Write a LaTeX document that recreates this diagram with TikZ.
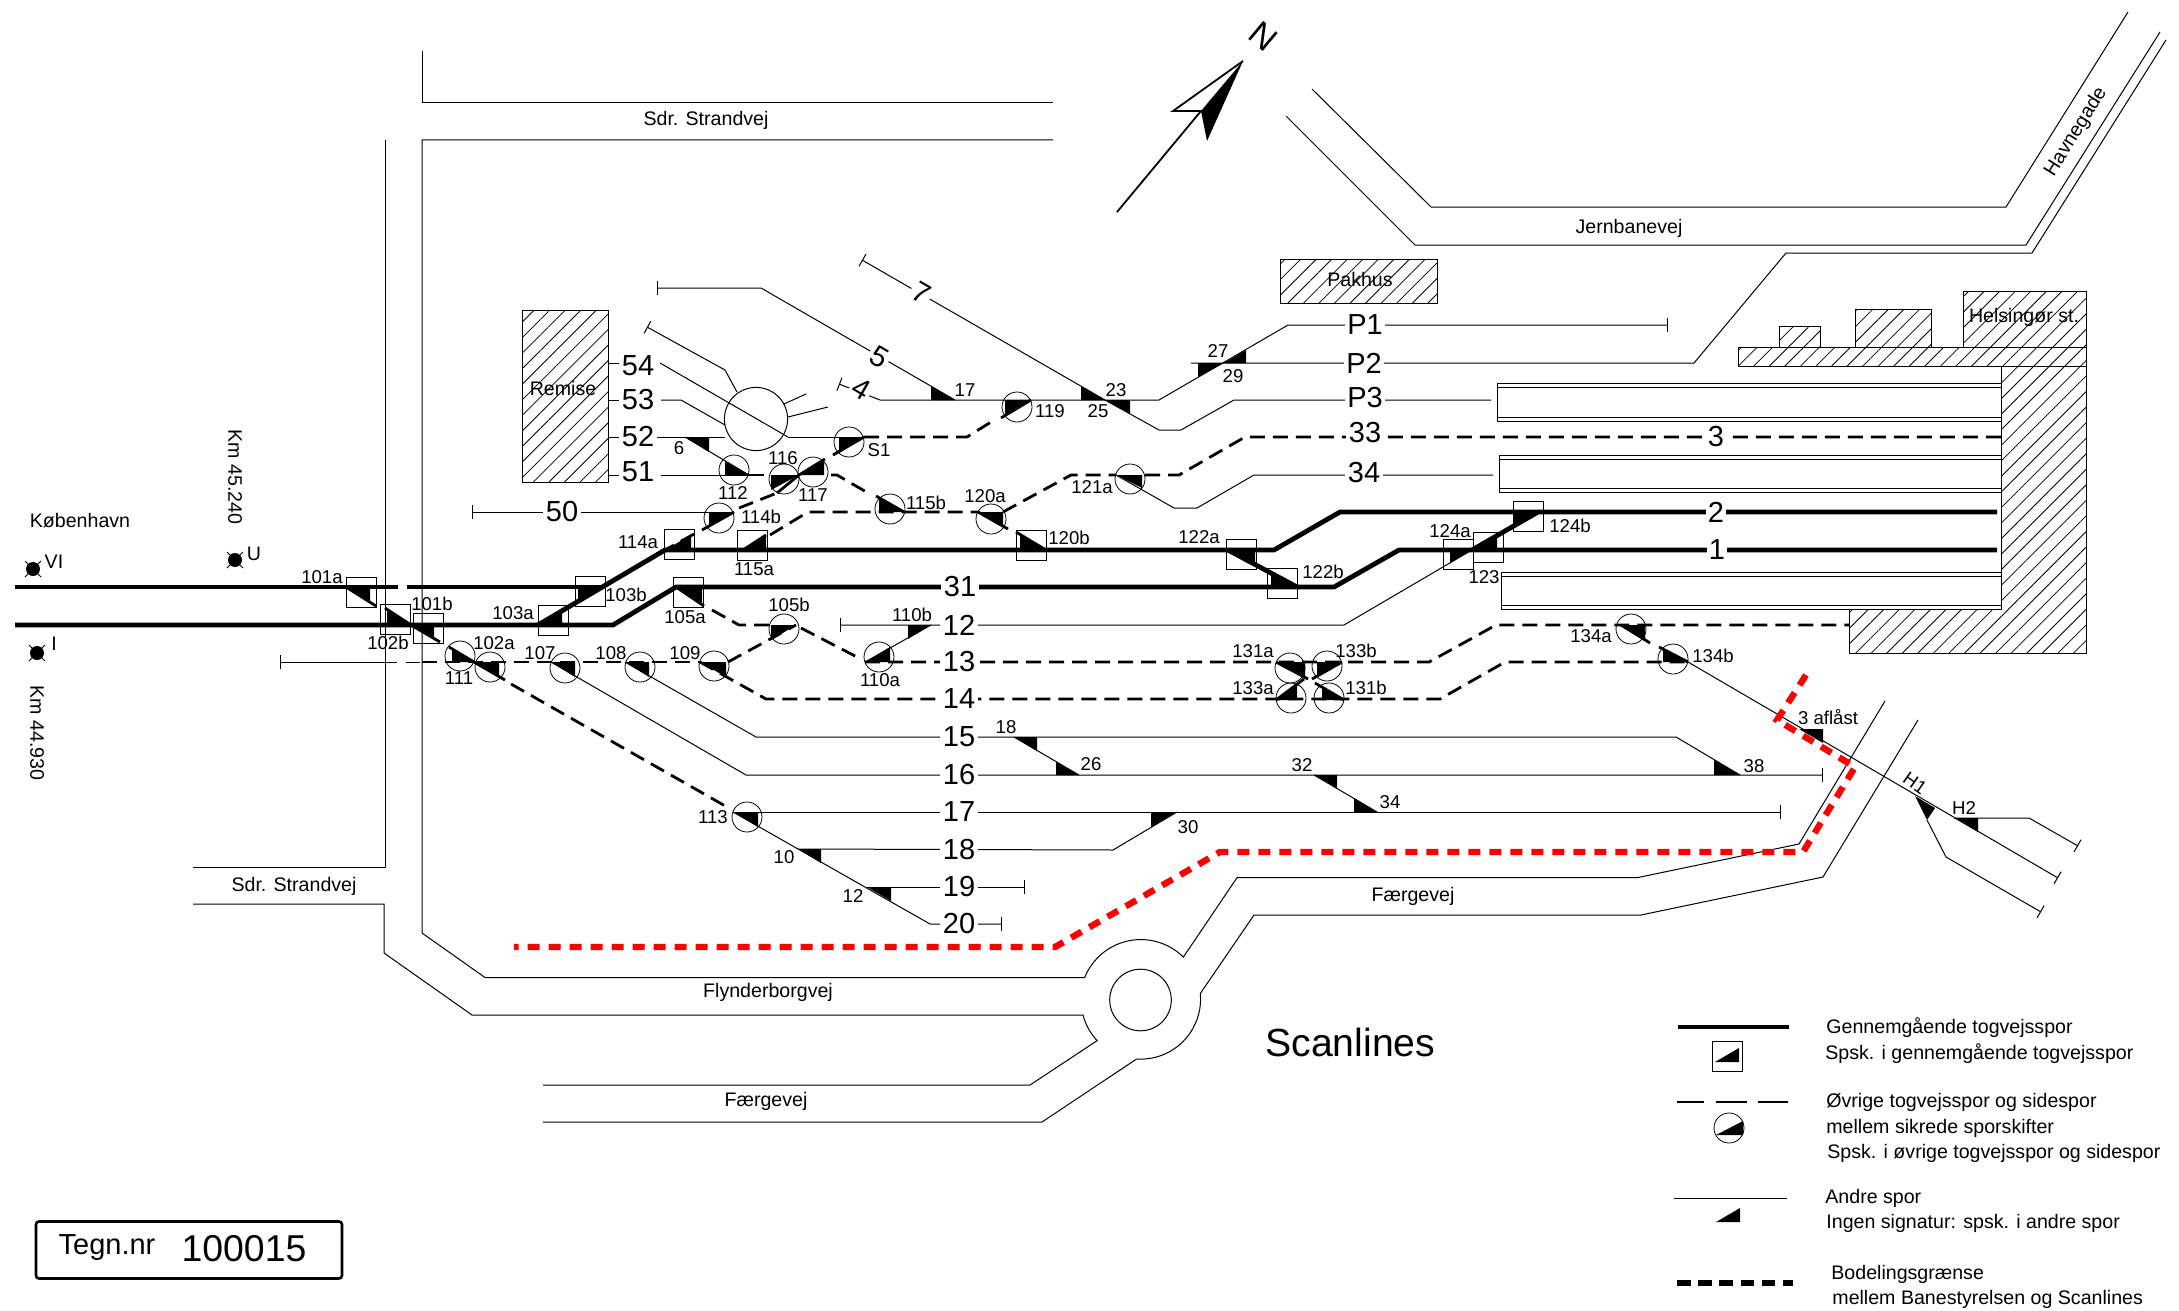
\documentclass[tikz,border=0pt]{standalone}
\usepackage{fontspec}
\setmainfont{Liberation Sans}
\usetikzlibrary{arrows.meta,patterns.meta}
\tikzstyle{gennem} = [line width=2.4pt]
\tikzstyle{ovrige} = [line width=1.4pt, dash pattern=on 7.5pt off 4pt]
\tikzstyle{stub} = [line width=1.4pt]
\tikzstyle{andre} = [line width=.5pt]
\tikzstyle{graense} = [line width=3.2pt, red, dash pattern=on 6pt off 4.5pt]
\tikzstyle{boks} = [draw, line width=.4pt, rectangle, minimum size=15pt, inner sep=0pt]
\tikzstyle{kreds} = [draw, line width=.4pt, circle, minimum size=15pt, inner sep=0pt]
\tikzstyle{spor} = [fill=white, inner sep=1.2pt, font=\fontsize{14.5}{16}\selectfont]
\tikzstyle{nr} = [inner sep=0pt, font=\fontsize{9.3}{11}\selectfont]
\tikzstyle{vej} = [inner sep=0pt, font=\fontsize{9.8}{11}\selectfont]
\tikzstyle{tekst} = [inner sep=0pt, anchor=west, font=\fontsize{9.8}{11}\selectfont]
\tikzstyle{hus} = [draw, line width=.5pt, pattern={Lines[angle=45,distance=5.5pt,line width=.4pt]}]
\tikzset{endbar/.style={-{Bar[width=7pt,length=.5pt]}},
    startbar/.style={{Bar[width=7pt,length=.5pt]}-},
    bothbar/.style={{Bar[width=7pt,length=.5pt]}-{Bar[width=7pt,length=.5pt]}}}

\begin{document}
\begin{tikzpicture}[x=.5pt, y=-.5pt]
    \useasboundingbox (0,0) rectangle (2179,1311);

    % veje
    \draw [andre] (422,51) -- (422,103) -- (1053,103);
    \draw [andre] (385,140) -- (385,867) -- (193,867);
    \draw [andre] (1053,140) -- (422,140) -- (422,933) -- (485,977.5) -- (1084.6,977.7)
        arc [start angle=201.7, end angle=314.7, radius=60.5] -- (1237,877.7) -- (1637,877.7) -- (1799,844) -- (1885,701);
    \draw [andre] (193,904) -- (384,904) -- (384,953) -- (472,1015) -- (1083,1015)
        arc [start angle=165.4, end angle=136.9, radius=59.5] -- (1030,1085) -- (543,1085);
    \draw [andre] (543,1122) -- (1042,1122) -- (1136.6,1059)
        arc [start angle=93.8, end angle=-5.4, radius=60] -- (1254,915) -- (1641,915) -- (1823,877) -- (1918,720);
    \node [draw, andre, circle, minimum size=30.8pt, inner sep=0pt] (rundkoersel) at (1140.5,1000) {};
    \draw [andre] (1312,89) -- (1431,207) -- (2006,207) -- (2128,12);
    \draw [andre] (1286,116) -- (1415,245) -- (2026,245) -- (2160,32);

    % bygninger
    \draw [hus] (522,310) rectangle (608,482);
    \draw [hus] (1280,259) rectangle (1437,303);
    \draw [hus] (1779,347) -- (1779,326) -- (1820,326) -- (1820,347);
    \draw [hus] (1855,347) -- (1855,309) -- (1931,309) -- (1931,347);
    \draw [hus] (1963,347) -- (1963,291) -- (2086,291) -- (2086,347);
    \draw [hus] (1738,347) rectangle (2086,366);
    \draw [hus] (2001,366) -- (2086,366) -- (2086,653) -- (1849,653) -- (1849,609) -- (2001,609) -- cycle;

    % perroner
    \draw [andre] (2001,383) -- (1497,383) -- (1497,421) -- (2001,421);
    \draw [andre] (1497,387) -- (2001,387) (1497,417) -- (2001,417);
    \draw [andre] (2001,455) -- (1499,455) -- (1499,492) -- (2001,492);
    \draw [andre] (1499,459) -- (2001,459) (1499,488) -- (2001,488);
    \draw [andre] (2001,572) -- (1501,572) -- (1501,609) -- (2001,609);
    \draw [andre] (1501,576) -- (2001,576) (1501,605) -- (2001,605);

    % sporskifter
    \foreach \n/\x/\y/\dx/\dy in {101a/346/587/24/16, 102b/411/625/-24/-14, 101b/411/625/23/14,
        111/474/662/-22/-12, 102a/474/662/25/15, 107/551/662/24/15, 108/625/662/24/15,
        109/700/662/26/15, 105b/796/625/-25/15, 105a/676/587/26/16, 110a/865/662/25/-15,
        110b/931/625/-23/14, 103a/538/625/24/-15, 103b/603/587/-25/15, 114a/665/550/26/-15,
        115a/743/550/23/-15, 114b/734/512/-25/15, 116/799/475/-28/15, 117/799/475/25/-16,
        S1/864/437/-25/15, 112/749/475/-24/-14, 6/685/437/24/15, 115b/904/512/-25/-15,
        120a/978/512/25/15, 120b/1046/550/-26/-15, 121a/1116/475/26/13, 119/1031/400/-26/16,
        17/955/400/-24/-14, 23/1105/400/-24/-14, 25/1105/400/25/14, 27/1224/363/-26/14,
        29/1224/363/22/-13, 122a/1228/550/27/15, 122b/1297/587/-26/-14, 124a/1472/550/-22/13,
        123/1472/550/25/-13, 124b/1538/512/-24/15, 131a/1276/662/29/15, 133b/1342/662/-25/15,
        133a/1276/700/21/-17, 131b/1344/700/-22/-13, 134a/1621/625/24/14, 134b/1688/662/-25/-12,
        3/1799/729/24/14, 38/1740/775/-26/-15, 18/1014/737/23/14, 26/1079/775/-23/-13,
        32/1314/775/23/13, 34/1377/812/-23/-14, 113/733/812/25/15, 10/798/849/23/14,
        12/867/887/24/14, 30/1177/812/-26/15, H2/1954/818/24/14}
        {\coordinate (a\n) at (\x,\y);
        \fill (a\n) -- ++(\dx,0) -- ++(0,\dy) -- cycle;}
    \coordinate (aH1) at (1915,796);
    \fill (aH1) -- (1935,808) -- (1927,820) -- cycle;

    % gennemgaaende togvejsspor
    \draw [gennem] (15,587) -- (398,587);
    \draw [gennem] (407,587) -- (a103b);
    \draw [gennem] (15,625) -- (613,625) -- (a105a) -- (1334,587) -- (1399,550) -- (1997,550);
    \draw [gennem] (a103a) -- (a114a) -- (1274,550) -- (1340,512) -- (1997,512);
    \draw [gennem] (a122a) -- (a122b);
    \draw [gennem] (a123) -- (a124b);

    % oevrige togvejsspor
    \draw [ovrige] (422,662) -- (a109);
    \draw [ovrige] (511,684) -- (727,807);
    \draw [ovrige] (a109) -- (766,699) -- (1440,699) -- (1505,662) -- (a134b);
    \draw [ovrige] (728,662) -- (a105b);
    \draw [ovrige] (712,610) -- (739,625) -- (770,625);
    \draw [ovrige] (801,628) -- (857,657);
    \draw [ovrige] (a110a) -- (1429,662) -- (1496,625) -- (1849,625);
    \draw [ovrige] (694,534) -- (a114a);
    \draw [ovrige] (739,508) -- (777,493);
    \draw [ovrige] (770,535) -- (808,512) -- (a120a);
    \draw [ovrige] (a112) -- (770,475);
    \draw [ovrige] (831,475) -- (837,475) -- (868,493);
    \draw [ovrige] (1003,512) -- (1071,475) -- (a121a);
    \draw [ovrige] (1145,475) -- (1179,475) -- (1245,437) -- (2001,437);
    \draw [ovrige] (aS1) -- (967,437) -- (991,422);

    % korte stykker ved sporskifterne
    \draw [stub] (a101a) -- (376,606);
    \draw [stub] (385,608) -- (a102b) -- (440,642);
    \draw [stub] (449,647) -- (a111) -- (505,680);
    \draw [stub] (a105a) -- (704,606);
    \draw [stub] (a114b) -- (702,530);
    \draw [stub] (777,493) -- (a116) -- (825,459);
    \draw [stub] (a115a) -- (766,535);
    \draw [stub] (aS1) -- (833,455);
    \draw [stub] (a115b) -- (876,496);
    \draw [stub] (a120a) -- (1008,529);
    \draw [stub] (a120b) -- (1016,532);
    \draw [stub] (a119) -- (1001,418);
    \draw [stub] (a131a) -- (1308,679);
    \draw [stub] (a133b) -- (1312,679);
    \draw [stub] (a133a) -- (1304,679);
    \draw [stub] (a131b) -- (1315,683);
    \draw [stub] (a134a) -- (1650,643);
    \draw [stub] (a134b) -- (1659,647);

    % andre spor
    \draw [andre, startbar] (280,662) -- (397,662);
    \draw [andre] (406,662) -- (420,662);
    \draw [andre, endbar] (a107) -- (746,775) -- (1823,775);
    \draw [andre] (a108) -- (756,737) -- (1676,737) -- (a38);
    \draw [andre, endbar] (a134b) -- (2058,878);
    \draw [andre, startbar] (840,625) -- (1344,625) -- (a124a);
    \draw [andre] (a110a) -- (a110b);
    \draw [andre] (a18) -- (a26);
    \draw [andre] (a32) -- (a34);
    \draw [andre, endbar] (a113) -- (1781,812);
    \draw [andre, endbar] (a113) -- (930,924) -- (1002,924);
    \draw [andre] (a10) -- (1113,850) -- (a30);
    \draw [andre, endbar] (a12) -- (1025,887);
    \draw [andre, startbar] (472,512) -- (709,512);
    \draw [andre] (608,475) -- (622,475);
    \draw [andre] (661,475) -- (a112);
    \draw [andre] (608,437) -- (622,437);
    \draw [andre] (654,437) -- (725,437);
    \draw [andre] (788,437) -- (aS1);
    \draw [andre] (608,363) -- (622,363);
    \draw [andre] (660,363) -- (788,437);
    \draw [andre] (608,400) -- (622,400);
    \draw [andre] (661,400) -- (681,400) -- (725,425);
    \draw [andre, startbar] (647,327) -- (725,370) -- (737,392);
    \draw [andre] (784,404) -- (806,394);
    \draw [andre] (788,417) -- (828,407);
    \draw [andre] (a6) -- (a112);
    \draw [andre, bothbar] (839,384) -- (880,400) -- (1159,400) -- (1288,325) -- (1668,325);
    \draw [andre, startbar] (657,288) -- (761,288) -- (a17);
    \draw [andre, startbar] (862,260) -- (a23);
    \draw [andre] (a25) -- (1159,430) -- (1181,430) -- (1234,400) -- (1491,400);
    \draw [andre] (a121a) -- (1174,508) -- (1197,508) -- (1254,475) -- (1493,475);
    \draw [andre] (1191,363) -- (1694,363) -- (1786,253) -- (2032,253) -- (2166,40);
    \draw [andre, endbar] (aH2) -- (2029,818) -- (2078,846);
    \draw [andre, endbar] (1927,820) -- (1946,857) -- (2041,912);
    \node [draw, andre, circle, minimum size=31.6pt, inner sep=0pt] (drejeskive) at (756,419) {};

    % bodelingsgraense
    \draw [graense] (1806,675) -- (1777,720) -- (1855,767) -- (1803,852) -- (1220,852) -- (1055,947) -- (514,947);

    % signaturer
    \foreach \n/\x/\y in {101a/361/592, 102b/395/619, 101b/428/628, 103a/553/620, 103b/590/591,
        114a/679/544, 105a/688/592, 115a/752/545, 120b/1031/545, 122a/1241/554, 122b/1282/583,
        124a/1458/554, 123/1488/547, 124b/1528/516}
        \node [boks] (b\n) at (\x,\y) {};
    \foreach \n/\x/\y in {111/460/656, 102a/490/667, 107/565/668, 108/640/667, 109/714/666,
        105b/784/629, 110a/879/657, 114b/719/518, 112/734/470, 116/784/479, 117/813/472,
        S1/849/442, 119/1017/407, 115b/890/509, 120a/991/519, 121a/1130/479, 134a/1631/629,
        134b/1673/659, 131a/1290/668, 133b/1327/666, 133a/1291/698, 131b/1329/698, 113/747/817}
        \node [kreds] (k\n) at (\x,\y) {};

    % signaler
    \foreach \n/\x/\y in {VI/33/569, U/235/560, I/37/653}
        {\fill (\x,\y) circle [radius=7];
        \draw [andre] (\x-8,\y-8) -- (\x+8,\y+8) (\x-8,\y+8) -- (\x+8,\y-8);}

    % spornumre
    \foreach \n/\x/\y in {15/959/737, 16/959/775, 17/959/812, 18/959/850, 19/959/887, 20/959/924,
        31/960/587, 12/959/625, 13/959/662, 14/959/699, 50/562/512, 51/638/472, 52/638/437,
        53/638/400, 54/638/366, P1/1365/325, P2/1364/363, P3/1365/398, 33/1365/433, 34/1364/473,
        2/1716/512, 1/1717/550, 3/1716/437}
        \node [spor] (s\n) at (\x,\y) {\n};
    \node [spor, rotate=-30] (s5) at (879,357) {5};
    \node [spor, rotate=-30] (s4) at (861,389) {4};
    \node [spor, rotate=-30] (s7) at (921,293) {7};

    % sporskiftenumre
    \foreach \n/\x/\y in {101a/322/577, 101b/432/604, 102b/388/643, 103a/513/613, 103b/626/595,
        102a/494/643, 111/459/678, 107/540/653, 108/611/653, 109/685/653, 105a/685/617, 105b/789/605,
        110b/912/615, 110a/880/680, 114a/638/542, 114b/761/517, 115a/754/569, 115b/926/503,
        120a/985/496, 120b/1069/538, 121a/1092/487, 112/733/493, 116/783/458, 117/813/495,
        S1/879/450, 119/1050/411, 17/965/390, 23/1116/390, 25/1098/411, 6/679/448, 27/1218/351,
        29/1233/376, 122a/1199/537, 122b/1323/572, 124a/1450/531, 124b/1570/526, 123/1484/577,
        131a/1253/651, 133b/1356/651, 133a/1253/688, 131b/1366/688, 134a/1591/636, 134b/1713/656,
        38/1754/766, H2/1964/808, 18/1006/727, 26/1091/764, 32/1302/765, 30/1188/827, 113/713/817,
        10/784/857, 12/853/896, 34/1390/802}
        \node [nr] (n\n) at (\x,\y) {\n};
    \node [nr, rotate=-35] (nH1) at (1915,783) {H1};
    \node [nr] (naflaast) at (1828,717) {3 aflåst};

    % navne
    \node [vej] (kbh) at (80,521) {København};
    \node [vej] (nVI) at (54,562) {VI};
    \node [vej] (nU) at (254,554) {U};
    \node [vej] (nI) at (54,644) {I};
    \node [vej, rotate=-90] (km1) at (37,733) {Km 44.930};
    \node [vej, rotate=-90] (km2) at (235,477) {Km 45.240};
    \node [vej] (sdr1) at (706,120) {Sdr. Strandvej};
    \node [vej] (sdr2) at (294,886) {Sdr. Strandvej};
    \node [vej] (flynder) at (768,992) {Flynderborgvej};
    \node [vej] (faerge1) at (766,1101) {Færgevej};
    \node [vej] (faerge2) at (1413,896) {Færgevej};
    \node [vej] (jernbane) at (1629,228) {Jernbanevej};
    \node [vej, rotate=58] (havn) at (2076,132) {Havnegade};
    \node [vej] (remise) at (563,388) {Remise};
    \node [vej] (pakhus) at (1360,279) {Pakhus};
    \node [vej] (helsingor) at (2024,317) {Helsingør st.};
    \node [inner sep=0pt, anchor=base west, font=\fontsize{19.6}{22}\selectfont] (scanlines) at (1265,1056) {Scanlines};

    % nordpil
    \coordinate (nord) at (1243,61);
    \draw [line width=.9pt] (1117,212) -- (1201,111) -- (1173,111) -- (nord);
    \fill (nord) -- (1201,111) -- (1207,141) -- cycle;
    \node [inner sep=0pt, rotate=-40, font=\fontsize{17}{18}\selectfont] (nnord) at (1263,36) {N};

    % tegningsnummer
    \node [draw, line width=1.3pt, rounded corners=1.5pt, rectangle, minimum width=153pt, minimum height=28.5pt, inner sep=0pt] (tegn) at (189,1250) {};
    \node [inner sep=0pt, font=\fontsize{14.5}{17}\selectfont] (tegnnr) at (107,1248) {Tegn.nr};
    \node [inner sep=0pt, font=\fontsize{18.7}{21}\selectfont] (nummer) at (244,1249) {100015};

    % signaturforklaring
    \draw [gennem] (1678,1027) -- (1789,1027);
    \node [boks] (l1) at (1727,1056) {};
    \fill (1715,1062) -- ++(24,0) -- ++(0,-14) -- cycle;
    \draw [stub] (1677,1102) -- (1704,1102) (1716,1102) -- (1747,1102) (1758,1102) -- (1788,1102);
    \node [kreds] (l2) at (1729,1128) {};
    \fill (1716,1135) -- ++(27,0) -- ++(0,-14) -- cycle;
    \draw [andre] (1674,1198) -- (1787,1198);
    \fill (1716,1222) -- ++(24,0) -- ++(0,-14) -- cycle;
    \draw [line width=3pt, dash pattern=on 6.8pt off 3.8pt] (1677,1283) -- (1793,1283);
    \foreach \n/\x/\y/\t in {1/1826/1028/Gennemgående togvejsspor, 2/1825/1054/Spsk. i gennemgående togvejsspor,
        3/1826/1102/Øvrige togvejsspor og sidespor, 4/1826/1128/mellem sikrede sporskifter,
        5/1827/1153/Spsk. i øvrige togvejsspor og sidespor, 6/1825/1198/Andre spor,
        7/1826/1223/Ingen signatur: spsk. i andre spor, 8/1831/1274/Bodelingsgrænse,
        9/1832/1299/mellem Banestyrelsen og Scanlines}
        \node [tekst] (t\n) at (\x,\y) {\t};
\end{tikzpicture}
\end{document}
